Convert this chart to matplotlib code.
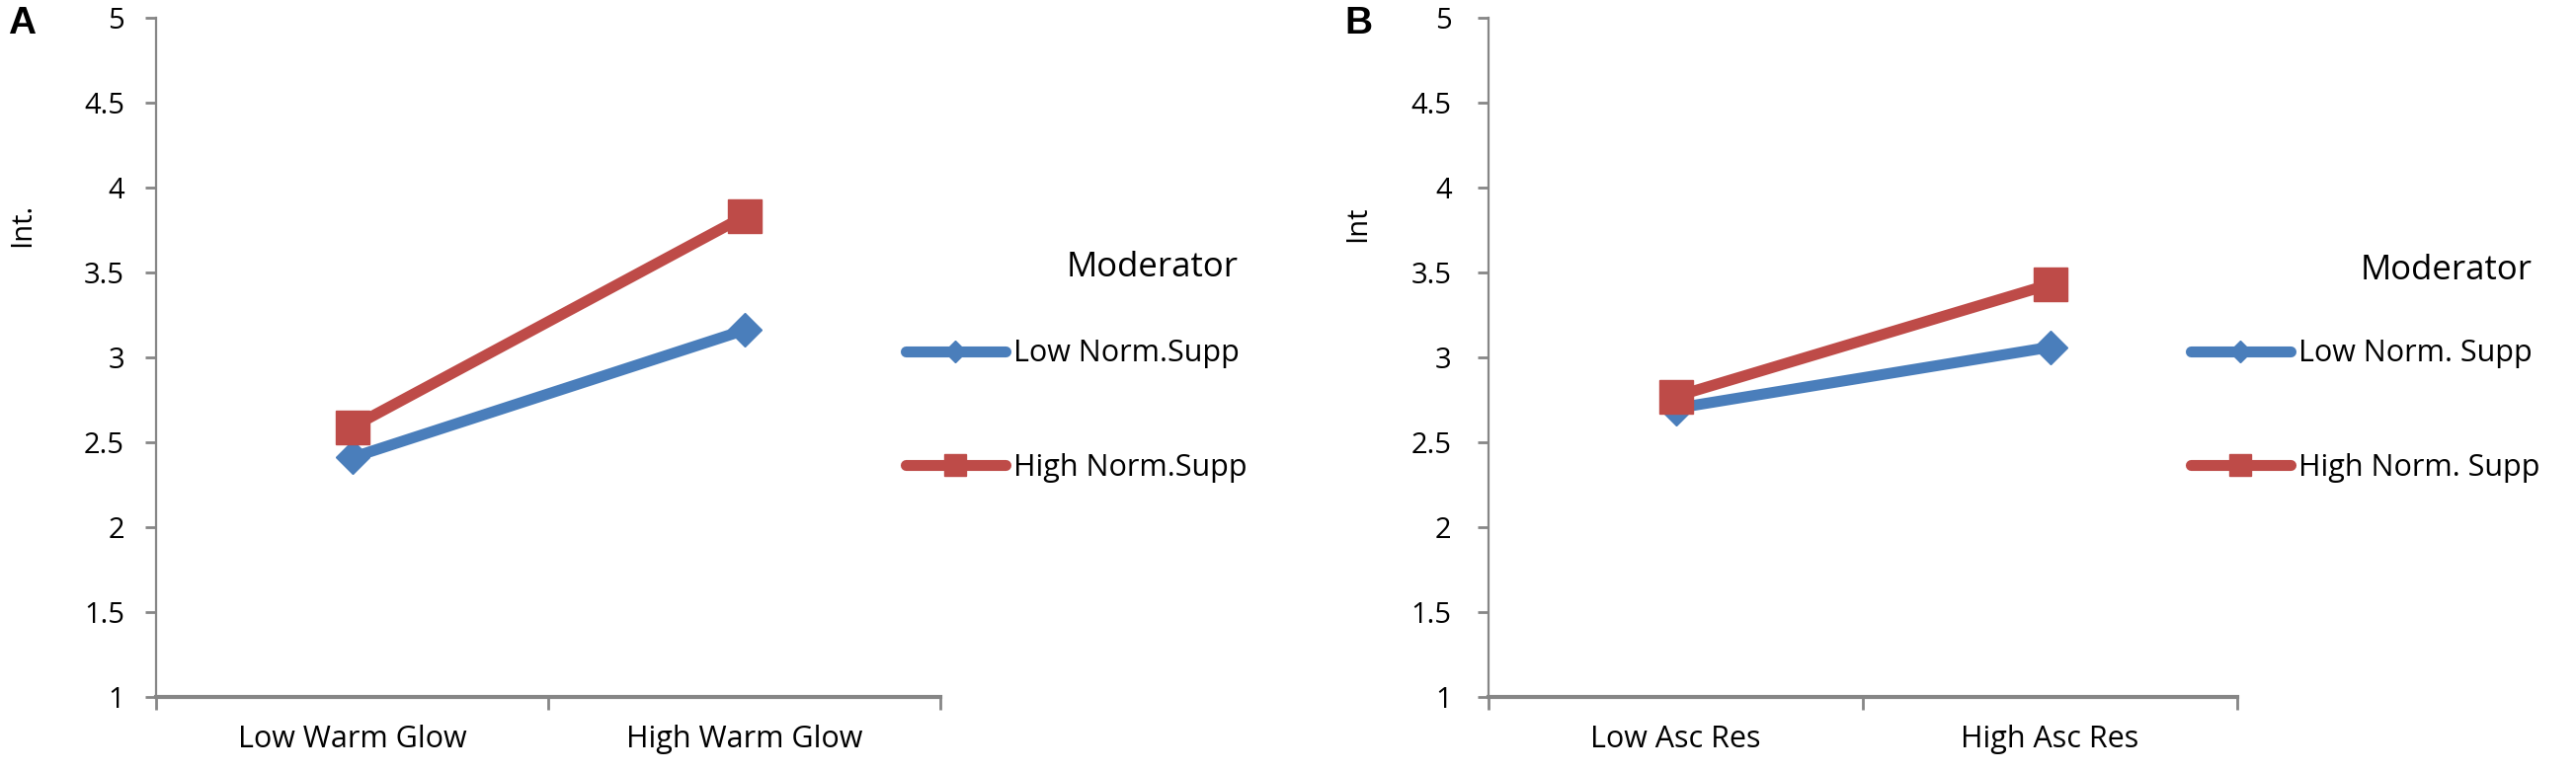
import matplotlib
matplotlib.use("Agg")
import matplotlib.pyplot as plt

plt.rcParams['font.family'] = ['Open Sans', 'DejaVu Sans']

# data
cats_a = ["Low Warm Glow", "High Warm Glow"]
cats_b = ["Low Asc Res", "High Asc Res"]
low_a = [2.41, 3.16]
high_a = [2.59, 3.83]
low_b = [2.70, 3.06]
high_b = [2.77, 3.43]
labels_a = ["Low Norm.Supp", "High Norm.Supp"]
labels_b = ["Low Norm. Supp", "High Norm. Supp"]
yticks = [1, 1.5, 2, 2.5, 3, 3.5, 4, 4.5, 5]
ytick_labels = ["1", "1.5", "2", "2.5", "3", "3.5", "4", "4.5", "5"]

BLUE = "#4A7EBB"
RED = "#BE4B48"
GREY = "#868686"
W, H = 2608, 782

fig = plt.figure(figsize=(W / 100, H / 100), dpi=100)


def px(x0, y0, x1, y1):
    # pixel box -> figure fraction rect
    return [x0 / W, 1 - y1 / H, (x1 - x0) / W, (y1 - y0) / H]


def panel(rect, cats, low, high, labels, ypad, leg_x, leg_y, mod_x, mod_y):
    ax = fig.add_axes(rect)
    xs = list(range(len(cats)))
    l1, = ax.plot(xs, low, color=BLUE, lw=8, marker="D", ms=17,
                  solid_capstyle="round", label=labels[0], zorder=3)
    l2, = ax.plot(xs, high, color=RED, lw=8, marker="s", ms=24,
                  solid_capstyle="round", label=labels[1], zorder=4)
    ax.set_xlim(-0.5, len(cats) - 0.5)
    ax.set_ylim(1, 5)
    ax.set_yticks(yticks)
    ax.set_yticklabels(ytick_labels)
    ax.set_xticks([-0.5, 0.5, 1.5])
    ax.set_xticklabels([])
    ax.set_xticks(xs, minor=True)
    ax.set_xticklabels(cats, minor=True)
    ax.tick_params(axis="x", which="major", length=9, width=2, color=GREY, direction="out")
    ax.tick_params(axis="x", which="minor", length=0, pad=20, labelsize=22)
    ax.tick_params(axis="y", length=8, width=2, color=GREY, direction="out",
                   pad=ypad, labelsize=21)
    for s in ["top", "right"]:
        ax.spines[s].set_visible(False)
    ax.spines["left"].set_color(GREY)
    ax.spines["left"].set_linewidth(1.6)
    ax.spines["bottom"].set_color(GREY)
    ax.spines["bottom"].set_linewidth(3)
    ax.spines["bottom"].set_zorder(5)

    fig.legend(handles=[l1, l2], loc="center left",
               bbox_to_anchor=(leg_x / W, 1 - leg_y / H),
               frameon=False, fontsize=22, borderpad=0, borderaxespad=0,
               handlelength=3.3, handletextpad=0.28, labelspacing=2.8,
               markerscale=0.68)
    fig.text(mod_x / W, 1 - mod_y / H, "Moderator", fontsize=25,
             ha="left", va="center")
    return ax


panel(px(158, 18, 952, 706), cats_a, low_a, high_a, labels_a, 15,
      917, 416, 1080, 271)
panel(px(1507, 18, 2265, 706), cats_b, low_b, high_b, labels_b, 19,
      2218, 416, 2390, 274)

fig.text(8 / W, 1 - 6 / H, "A", fontsize=28, fontweight="bold",
         family="Liberation Sans", ha="left", va="top")
fig.text(1361 / W, 1 - 6 / H, "B", fontsize=28, fontweight="bold",
         family="Liberation Sans", ha="left", va="top")
fig.text(23 / W, 1 - 228 / H, "Int.", fontsize=21, rotation=90,
         ha="center", va="center")
fig.text(1375 / W, 1 - 227 / H, "Int", fontsize=21, rotation=90,
         ha="center", va="center")

fig.savefig("out.png", dpi=100)
